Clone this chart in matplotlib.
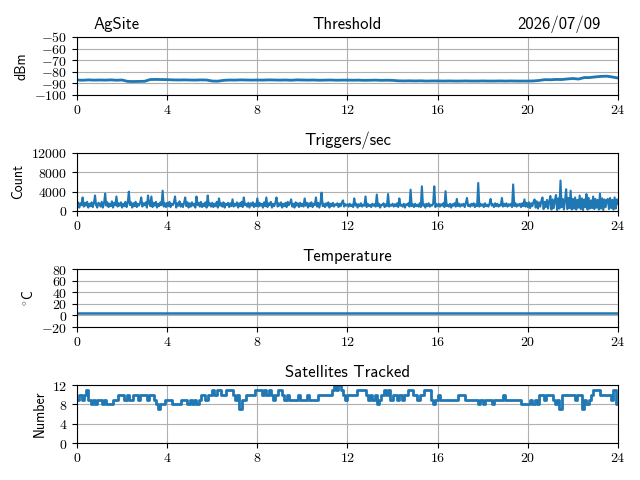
import matplotlib
matplotlib.use('Agg')
import matplotlib.pyplot as plt
import matplotlib.ticker as mticker
import numpy as np

plt.rcParams['font.family'] = ['cmss10', 'DejaVu Sans']
plt.rcParams['mathtext.fontset'] = 'cm'
plt.rcParams['axes.unicode_minus'] = True

site = 'AgSite'
date = '2026/07/09'

# Threshold (dBm), one value every 15 min
thresh_step = 0.25
threshold = [
    -87.1, -87.3, -87.0, -87.2,
    -87.1, -87.2, -87.0, -87.3,
    -87.1, -88.3, -88.4, -88.3,
    -88.2, -86.7, -86.6, -86.7,
    -86.8, -87.0, -87.1, -87.0,
    -87.1, -87.2, -87.0, -87.1,
    -88.0, -88.1, -87.4, -87.1,
    -87.2, -87.0, -87.1, -87.2,
    -87.1, -87.2, -87.0, -87.1,
    -87.2, -87.1, -87.3, -87.0,
    -87.1, -87.2, -87.1, -87.3,
    -87.2, -87.1, -87.3, -87.2,
    -87.2, -87.3, -87.2, -87.4,
    -87.3, -87.2, -87.4, -87.3,
    -87.4, -87.8, -87.9, -87.8,
    -87.9, -87.8, -88.0, -87.9,
    -87.9, -88.0, -87.9, -88.0,
    -88.0, -87.9, -88.0, -88.0,
    -87.9, -88.0, -88.0, -87.9,
    -88.0, -87.9, -88.0, -88.0,
    -88.0, -87.9, -87.5, -86.8,
    -86.9, -86.6, -86.7, -86.2,
    -85.8, -86.3, -85.0, -85.0,
    -84.4, -84.0, -83.8, -84.5,
    -85.4,
]

# Triggers per second, one value every 3 min (one row per hour)
trig_step = 0.05
triggers = [
    1000, 1800, 700, 1600, 1200, 2800, 900, 1700, 1100, 1900, 700, 1500, 1000, 1800, 800, 1600, 3200, 1200, 700, 1700,
    1500, 900, 1900, 700, 1600, 3600, 1100, 1800, 800, 1500, 1000, 2000, 700, 1700, 1200, 3000, 900, 1600, 1100, 1800,
    700, 1500, 1000, 1900, 800, 1700, 4000, 1200, 1800, 700, 1600, 1000, 1900, 800, 1500, 1100, 1700, 2800, 900, 1600,
    1200, 1800, 700, 3200, 1600, 1000, 3000, 800, 1700, 1100, 1900, 700, 1500, 1000, 1800, 1200, 4200, 900, 1600, 800,
    1700, 1000, 1900, 800, 1500, 1200, 1800, 3000, 700, 1600, 1100, 2000, 900, 1500, 800, 1700, 2800, 1000, 1800, 700,
    1600, 900, 1800, 1100, 1500, 700, 3000, 1200, 1700, 900, 1900, 800, 1500, 1000, 1800, 700, 3200, 1100, 1600, 900,
    1700, 800, 1500, 1000, 1900, 700, 2600, 1100, 1600, 900, 1800, 700, 1500, 1200, 1700, 800, 1600, 1000, 2400, 900,
    1500, 1100, 1800, 700, 1600, 1000, 1900, 800, 2800, 1200, 1500, 900, 1700, 700, 1600, 1100, 1800, 800, 1500, 1000,
    2600, 900, 1700, 1100, 1500, 700, 1800, 1000, 2800, 800, 1600, 1200, 1900, 700, 1500, 1000, 1700, 2800, 900, 1600,
    1100, 1800, 700, 1500, 1000, 1700, 800, 1900, 1200, 1600, 2400, 900, 1500, 700, 1800, 1100, 1600, 800, 1700, 1000,
    1500, 900, 2600, 1100, 1700, 700, 1600, 1000, 1800, 800, 1500, 1200, 2800, 900, 1700, 700, 1600, 3800, 1000, 1500,
    800, 1600, 1100, 1800, 700, 1500, 1000, 1700, 900, 1400, 1200, 1600, 800, 1500, 1000, 1700, 2200, 900, 1400, 1100,
    1400, 900, 1500, 1000, 1300, 800, 2600, 1100, 1500, 700, 1400, 1000, 1600, 900, 1300, 1100, 3000, 800, 1500, 1000,
    1300, 800, 1500, 1100, 1400, 900, 3400, 1000, 1500, 700, 1300, 1200, 1600, 800, 1400, 1000, 3500, 900, 1300, 1100,
    1500, 900, 1400, 1000, 1600, 800, 2600, 1100, 1300, 900, 1500, 700, 1400, 1200, 1600, 900, 4400, 1000, 1400, 800,
    1500, 1000, 1300, 900, 1600, 800, 5100, 1100, 1400, 700, 1500, 1000, 1600, 900, 1300, 1100, 1500, 5100, 800, 1400,
    1000, 1500, 900, 1400, 1100, 1600, 800, 4100, 1000, 1300, 900, 1500, 700, 1400, 1100, 1600, 900, 2500, 1000, 1500,
    900, 1400, 1100, 1500, 800, 1600, 2700, 1000, 1300, 900, 1500, 1100, 1600, 800, 1400, 1000, 5800, 900, 1500, 1100,
    1400, 800, 1600, 1000, 1300, 900, 1500, 2500, 1100, 1400, 800, 1600, 1000, 1500, 900, 1300, 1100, 2700, 900, 1500,
    1000, 1600, 900, 1400, 1100, 1500, 800, 5500, 1000, 1600, 900, 1400, 1100, 1500, 800, 1600, 1000, 2400, 900, 1700,
    800, 1800, 600, 1600, 1000, 1900, 2400, 700, 2000, 500, 1800, 900, 2100, 2800, 400, 1900, 800, 2300, 500, 2000,
    3100, 300, 2400, 600, 2200, 3300, 200, 2600, 500, 6300, 800, 2500, 300, 2200, 4500, 400, 2700, 600, 4200, 300,
    2500, 500, 2800, 300, 2300, 700, 3200, 400, 2600, 200, 2400, 800, 3500, 300, 2700, 500, 2200, 600, 3000, 400,
    2500, 700, 2300, 300, 3600, 500, 2600, 200, 2400, 800, 2200, 2500, 400, 2700, 600, 2300, 300, 2800, 500, 2400,
    1500,
]

# Temperature (deg C), hourly
temp_step = 1.0
temperature = [4.0, 4.0, 4.0, 4.0, 4.0, 4.0, 4.0, 4.0, 4.0, 4.0, 4.0, 4.0, 4.0,
               4.0, 4.0, 4.0, 4.0, 4.0, 4.0, 4.0, 4.0, 4.0, 4.0, 4.0, 4.0]

# Satellites tracked, one value every 6 min
sats_step = 0.1
satellites = [
    9, 10, 9, 10, 11, 9, 8, 9, 8, 9,
    9, 8, 9, 8, 8, 8, 9, 9, 10, 10,
    10, 9, 10, 9, 9, 10, 10, 9, 10, 10,
    10, 9, 10, 10, 9, 8, 7, 8, 8, 9,
    9, 9, 8, 8, 8, 8, 9, 9, 9, 8,
    9, 8, 9, 8, 9, 10, 10, 9, 10, 10,
    11, 10, 11, 11, 10, 10, 11, 11, 11, 10,
    9, 10, 7, 9, 9, 10, 10, 10, 10, 11,
    11, 11, 10, 11, 10, 11, 10, 9, 10, 11,
    11, 10, 9, 10, 9, 9, 9, 9, 10, 9,
    9, 9, 10, 9, 9, 9, 9, 10, 10, 10,
    10, 10, 10, 11, 12, 11, 12, 11, 10, 9,
    10, 10, 10, 10, 11, 11, 11, 11, 10, 9,
    10, 9, 10, 8, 9, 10, 11, 10, 11, 9,
    10, 10, 9, 10, 9, 10, 10, 11, 11, 10,
    10, 9, 10, 10, 11, 11, 11, 9, 8, 9,
    10, 9, 9, 9, 9, 9, 9, 9, 9, 10,
    10, 10, 9, 9, 9, 9, 9, 9, 8, 9,
    8, 9, 9, 9, 8, 9, 9, 9, 9, 10,
    9, 9, 9, 9, 9, 9, 9, 8, 8, 8,
    8, 9, 8, 9, 8, 10, 10, 9, 10, 10,
    10, 9, 8, 9, 7, 10, 10, 10, 10, 10,
    10, 9, 10, 10, 7, 9, 8, 9, 10, 11,
    11, 11, 10, 10, 10, 10, 10, 9, 11, 8,
    8,
]

panels = [
    ('Threshold', 'dBm', threshold, thresh_step, (-100, -50), [-100, -90, -80, -70, -60, -50], 2.0, False),
    ('Triggers/sec', 'Count', triggers, trig_step, (0, 12000), [0, 4000, 8000, 12000], 1.5, False),
    ('Temperature', r'$^{\circ}$C', temperature, temp_step, (-20, 80), [-20, 0, 20, 40, 60, 80], 1.8, False),
    ('Satellites Tracked', 'Number', satellites, sats_step, (0, 12), [0, 4, 8, 12], 2.0, True),
]

fig, axes = plt.subplots(4, 1, figsize=(6.4, 4.8), dpi=100)
fig.subplots_adjust(left=0.1203, right=0.9656, top=0.923, bottom=0.077, hspace=1.0)

mfmt = mticker.FuncFormatter(lambda v, p: '$%g$' % v)

for ax, (title, ylab, vals, step, ylim, yt, lw, steps) in zip(axes, panels):
    t = np.arange(len(vals)) * step
    if steps:
        ax.plot(t, vals, color='tab:blue', lw=lw, drawstyle='steps-post')
    else:
        ax.plot(t, vals, color='tab:blue', lw=lw)
    ax.set_xlim(0, 24)
    ax.set_ylim(*ylim)
    ax.set_xticks([0, 4, 8, 12, 16, 20, 24])
    ax.set_yticks(yt)
    ax.xaxis.set_major_formatter(mfmt)
    ax.yaxis.set_major_formatter(mfmt)
    ax.tick_params(axis='x', pad=2)
    ax.grid(True)
    ax.set_axisbelow(True)
    ax.set_title(title, fontsize=12)
    ax.set_ylabel(ylab)

axes[0].annotate(site, xy=(0.03, 1.0), xycoords='axes fraction', xytext=(0, 6),
                 textcoords='offset points', ha='left', va='baseline', fontsize=12)
axes[0].annotate(date, xy=(0.968, 1.0), xycoords='axes fraction', xytext=(0, 6),
                 textcoords='offset points', ha='right', va='baseline', fontsize=12)

fig.savefig('out.png', dpi=100)
